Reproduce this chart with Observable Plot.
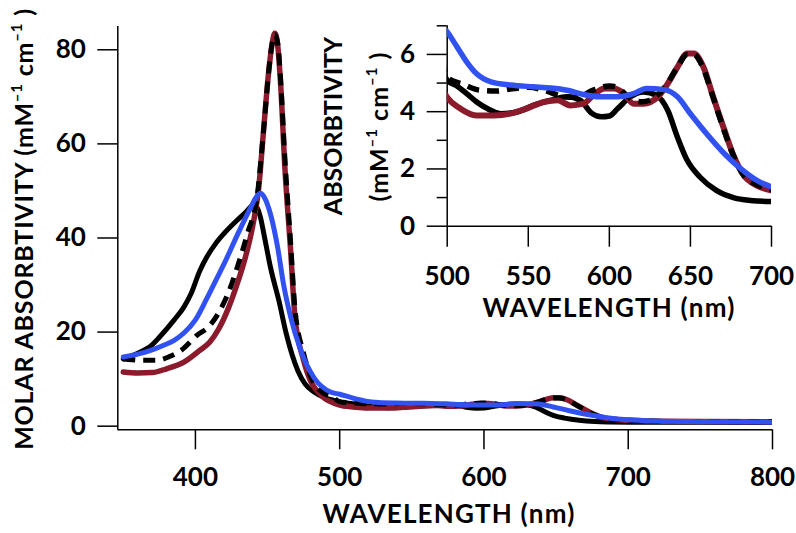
<!DOCTYPE html>
<html><head><meta charset="utf-8">
<script src="https://cdn.jsdelivr.net/npm/d3@7"></script>
<script src="https://cdn.jsdelivr.net/npm/@observablehq/plot@0.6"></script>
<style>
body{margin:0;background:#fff;}
#wrap{position:relative;width:796px;height:533px;overflow:hidden;background:#fff;}
#wrap svg{position:absolute;left:0;top:0;}
</style></head><body><div id="wrap"></div>
<script>
// ---- data (wavelength nm, molar absorptivity mM^-1 cm^-1) ----
const blackNm  = [350,360,370,375,385,392,397,403,408,414,420,428,435,441,445,448,452,458,463,471,476,482,490,496,500,506,512,518,525,533,543,553,564,574,582,589,595,600,605,613,621,629,636,642,648,656,666,677,687,700,720,750,800];
const blackVal = [14.3,15.5,17.3,18.9,22.5,25.3,28.2,33,36,38.8,41,43.5,45.5,47.2,44.5,40,33.8,26.5,19.6,11.8,9,7.3,6,5.5,5.1,4.9,4.63,4.35,4.1,3.93,3.99,4.22,4.4,4.52,4.4,3.95,3.82,3.85,4.1,4.52,4.69,4.57,4.05,3.11,2.3,1.71,1.25,0.99,0.9,0.86,0.85,0.82,0.8];

const redNm  = [350,360,370,380,392,403,410,416,423,428,434,440,444,447,451,453,455,457,459,462,466,469,475,480,484,490,496,500,508,518,529,539,549,560,568,576,584,590,597,603,609,615,621,630,636,642,648,652,658,664,671,677,683,691,700,720,750,800];
const redVal = [11.5,11.3,11.4,12.2,13.6,16.1,17.9,20.6,25.2,29.4,35.2,43,51,62,76,81,83.5,81,73,55,37.3,23.2,14,9.5,7.6,5.8,4.9,4.5,4.11,3.87,3.87,3.93,4.11,4.34,4.4,4.22,4.28,4.57,4.81,4.81,4.63,4.28,4.28,4.52,4.98,5.56,6.03,6.03,5.56,4.52,3.35,2.41,1.77,1.42,1.25,1.05,0.98,0.95];

const dashNm  = [350,356,362,373,382,390,401,410,417,423,429,436,443,447,451,453,455,457,459,462,466,469,475,480,485,490,496,500,510,520,530,540,550,560,570,580,590,600,605,610,615,620,625,630,636,642,648,652,658,664,671,677,683,691,700,720,750,800];
const dashVal = [14.3,14.1,14,14,14.8,16.1,19.3,21.4,24.6,28.5,33.8,40.9,49.4,62,76,81,83.3,81.5,74,57,39,25,15.5,10.5,8,6.8,6,5.2,4.95,4.75,4.72,4.8,4.85,4.75,4.55,4.5,4.75,4.9,4.85,4.6,4.4,4.35,4.4,4.6,5.0,5.56,6.0,6.0,5.5,4.5,3.3,2.4,1.77,1.45,1.28,1.05,0.98,0.95];

const blueNm  = [350,360,369,378,385,392,400,408,414,420,429,438,442,445,448,452,457,461,466,473,482,494,500,506,512,518,527,539,553,564,574,584,594,605,615,623,634,642,650,660,671,681,691,700,720,750,800];
const blueVal = [14.7,15.3,16.1,17.2,18.2,19.8,22.6,27.2,30.9,34.6,40.6,46.3,48.6,49.5,48.5,45.1,38,30.3,23.2,16.1,10.4,7.2,6.79,6.27,5.74,5.33,5.04,4.93,4.87,4.83,4.75,4.6,4.52,4.52,4.63,4.81,4.77,4.52,3.93,3.23,2.53,2.01,1.6,1.37,1.1,0.95,0.85];

// ---- axes / labels ----
const mainXDomain = [346.2, 800];
const mainYDomain = [-0.77, 84.95];
const mainXTicks = [400, 500, 600, 700, 800];
const mainYTicks = [0, 20, 40, 60, 80];
const insetXDomain = [500, 700];
const insetYDomain = [0, 7];
const insetXTicks = [500, 550, 600, 650, 700];
const insetYMajor = [0, 2, 4, 6];
const insetYMinor = [1, 3, 5, 7];
const xLabel = "WAVELENGTH (nm)";
const mainYLabel = ["MOLAR ABSORBTIVITY (mM", "^–1", " cm", "^–1", " )"];
const insetYLabel1 = ["ABSORBTIVITY"];
const insetYLabel2 = ["(mM", "^–1", " cm", "^–1", " )"];

const RED = "#8b1a2c", BLUE = "#3152f0";
const FONT = "Lato, 'Open Sans', sans-serif";

const rows = (nm, v) => nm.map((x, i) => ({x, y: v[i]}));

function seriesMarks(w) {
  const common = {x: "x", y: "y", curve: "monotone-x", clip: true};
  return [
    Plot.line(rows(blackNm, blackVal), {...common, stroke: "#000", strokeWidth: w}),
    Plot.line(rows(redNm, redVal), {...common, stroke: RED, strokeWidth: w + 0.5}),
    Plot.line(rows(dashNm, dashVal), {...common, stroke: "#000", strokeWidth: w, strokeDasharray: "12,8", strokeLinecap: "butt"}),
    Plot.line(rows(blueNm, blueVal), {...common, stroke: BLUE, strokeWidth: w})
  ];
}

const style = {fontFamily: FONT, fontSize: "26px", fontWeight: "bold", color: "#000", background: "transparent", overflow: "visible"};

const main = Plot.plot({
  width: 796, height: 533,
  marginLeft: 117.3, marginRight: 24, marginTop: 26, marginBottom: 103.7,
  style,
  x: {domain: mainXDomain},
  y: {domain: mainYDomain},
  marks: [
    Plot.axisX(mainXTicks, {tickSize: 20, tickPadding: 18, label: null, strokeWidth: 1.5}),
    Plot.axisY(mainYTicks, {tickSize: 20, tickPadding: 12, label: null, strokeWidth: 1.5}),
    Plot.ruleX([mainXDomain[0]], {strokeWidth: 1.5}),
    Plot.ruleY([mainYDomain[0]], {strokeWidth: 1.5}),
    ...seriesMarks(5)
  ]
});

const inset = Plot.plot({
  width: 796, height: 330,
  marginLeft: 446.7, marginRight: 25, marginTop: 25.3, marginBottom: 104.3,
  style,
  x: {domain: insetXDomain},
  y: {domain: insetYDomain},
  marks: [
    Plot.axisX(insetXTicks, {tickSize: 21, tickPadding: 19, label: null, strokeWidth: 1.5}),
    Plot.axisY(insetYMajor, {tickSize: 20, tickPadding: 12, label: null, strokeWidth: 1.5}),
    Plot.axisY(insetYMinor, {tickSize: 10, tickFormat: () => "", label: null, strokeWidth: 1.5}),
    Plot.ruleX([insetXDomain[0]], {strokeWidth: 1.5}),
    Plot.ruleY([insetYDomain[0]], {strokeWidth: 1.5}),
    ...seriesMarks(5.5)
  ]
});

const wrap = document.getElementById("wrap");
wrap.appendChild(main);
wrap.appendChild(inset);

function addText(svgEl, x, y, rotate, size, spacing, parts) {
  const t = d3.select(svgEl).append("text")
    .attr("transform", `translate(${x},${y}) rotate(${rotate})`)
    .attr("text-anchor", "middle")
    .attr("fill", "#000")
    .style("font-family", FONT).style("font-weight", "bold")
    .style("font-size", size + "px").style("letter-spacing", spacing + "px");
  const shift = size * 0.45;
  let raised = false;
  parts.forEach(p => {
    if (p.startsWith("^")) {
      t.append("tspan").attr("dy", -shift).style("font-size", (size * 0.6) + "px").text(p.slice(1));
      raised = true;
    } else {
      const s = t.append("tspan").text(p);
      if (raised) { s.attr("dy", shift); raised = false; }
    }
  });
  return t;
}

addText(main, 449, 523, 0, 26, 1.2, [xLabel]);
addText(main, 33, 229, -90, 25, 0.8, mainYLabel);
addText(inset, 609, 316.5, 0, 26, 1.2, [xLabel]);
addText(inset, 342, 126, -90, 25, 0, insetYLabel1);
addText(inset, 388, 126.5, -90, 25, 1, insetYLabel2);
</script></body></html>
